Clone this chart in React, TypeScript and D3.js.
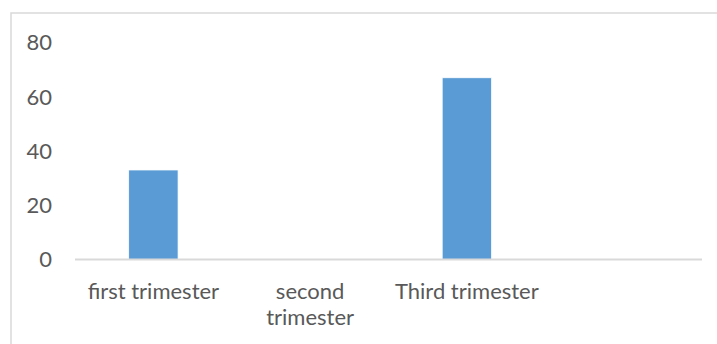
import React from "react";
import * as d3 from "d3";

const categories: string[] = ["first trimester", "second trimester", "Third trimester", ""];
const values: (number | null)[] = [33, null, 67, null];
const yTicks: number[] = [0, 20, 40, 60, 80];
// wrapped lines for each category label
const labelLines: string[][] = [["first trimester"], ["second", "trimester"], ["Third trimester"], []];

const W = 717;
const H = 344;
const FONT = "Lato, 'Open Sans', sans-serif";
const TEXT = "#595959";
const FS = 22;

export default function App() {
  const x = d3
    .scaleBand<string>()
    .domain(categories.map((c, i) => String(i)))
    .range([75, 702])
    .paddingInner(0.685)
    .paddingOuter(0.3425);
  const y = d3.scaleLinear().domain([0, 80]).range([259.5, 42.5]);

  return (
    <svg
      width={W}
      height={H}
      style={{ position: "absolute", left: 0, top: 0, display: "block", background: "#fff" }}
    >
      <rect x={11} y={13} width={W} height={H} fill="#fff" stroke="#D9D9D9" strokeWidth={1.5} />
      {yTicks.map((t) => (
        <text
          key={t}
          x={52}
          y={y(t)}
          dy="0.36em"
          textAnchor="end"
          fontFamily={FONT}
          fontSize={FS}
          fill={TEXT}
        >
          {t}
        </text>
      ))}
      {values.map((v, i) =>
        v == null ? null : (
          <rect
            key={i}
            x={x(String(i))!}
            y={y(v)}
            width={x.bandwidth()}
            height={y(0) - y(v)}
            fill="#5B9BD5"
            stroke="#fff"
            strokeWidth={0.75}
          />
        )
      )}
      <line x1={75} x2={702} y1={y(0)} y2={y(0)} stroke="#D9D9D9" strokeWidth={2} />
      {labelLines.map((lines, i) => (
        <text
          key={i}
          textAnchor="middle"
          fontFamily={FONT}
          fontSize={FS}
          fill={TEXT}
        >
          {lines.map((ln, j) => (
            <tspan key={j} x={x(String(i))! + x.bandwidth() / 2} y={298.5 + j * 26.5}>
              {ln}
            </tspan>
          ))}
        </text>
      ))}
    </svg>
  );
}
